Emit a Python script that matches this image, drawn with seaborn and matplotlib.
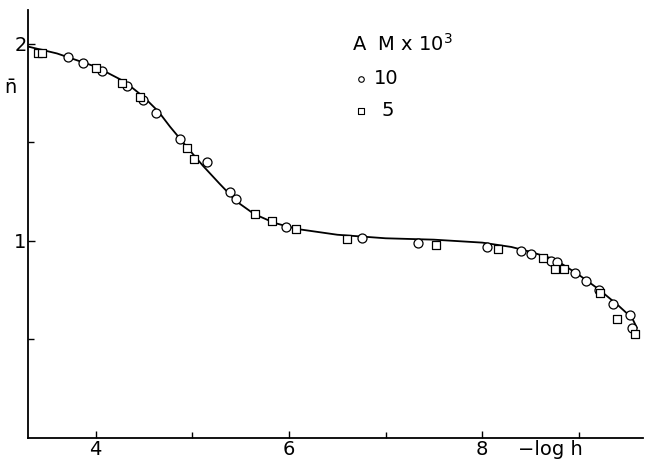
# n-bar gegen -log h, Kurve und Messpunkte (A = 10 und 5 x 10^-3 M)
import numpy as np
import pandas as pd
import matplotlib
matplotlib.use("Agg")
import matplotlib.pyplot as plt
import seaborn as sns

# Messpunkte, Kreise (A M x 10^3 = 10)
x_10 = [3.71, 3.87, 4.07, 4.32, 4.49, 4.62, 4.87, 5.15, 5.39, 5.45, 5.97,
        6.76, 7.33, 8.05, 8.40, 8.50, 8.71, 8.77, 8.96, 9.07, 9.21, 9.35,
        9.53, 9.55]
y_10 = [1.93, 1.90, 1.86, 1.787, 1.714, 1.647, 1.515, 1.398, 1.246, 1.21,
        1.07, 1.012, 0.987, 0.966, 0.95, 0.933, 0.898, 0.893, 0.838, 0.797,
        0.75, 0.679, 0.623, 0.558]

# Messpunkte, Quadrate (A M x 10^3 = 5)
x_5 = [3.40, 3.445, 4.00, 4.27, 4.455, 4.95, 5.02, 5.65, 5.82, 6.075,
       6.60, 7.52, 8.16, 8.625, 8.75, 8.85, 9.22, 9.39, 9.58]
y_5 = [1.95, 1.95, 1.875, 1.80, 1.728, 1.469, 1.415, 1.134, 1.10, 1.058,
       1.009, 0.98, 0.958, 0.911, 0.856, 0.858, 0.733, 0.60, 0.526]

# berechnete Kurve
x_kurve = [3.30, 3.60, 4.00, 4.30, 4.50, 4.65, 4.77, 4.97, 5.11, 5.28,
           5.46, 5.64, 5.85, 6.00, 6.10, 6.50, 7.00, 7.50, 8.00, 8.30,
           8.50, 8.75, 9.00, 9.20, 9.40, 9.55, 9.60]
y_kurve = [1.985, 1.95, 1.883, 1.807, 1.728, 1.655, 1.578, 1.46, 1.38,
           1.29, 1.198, 1.135, 1.09, 1.07, 1.058, 1.03, 1.012, 1.005, 0.99,
           0.968, 0.943, 0.905, 0.826, 0.755, 0.674, 0.607, 0.557]

sns.set_style("ticks")
plt.rcParams['font.family'] = ['DejaVu Sans']
plt.rcParams['text.color'] = 'black'
plt.rcParams['axes.edgecolor'] = 'black'
plt.rcParams['xtick.color'] = 'black'
plt.rcParams['ytick.color'] = 'black'

fig = plt.figure(figsize=(6.46, 4.59), dpi=100)
ax = fig.add_axes([0.0433, 0.0464, 0.9517, 0.9316])

kurve = pd.DataFrame({"x": x_kurve, "y": y_kurve})
sns.lineplot(data=kurve, x="x", y="y", ax=ax, color="black", lw=1.3,
             sort=True)

sns.scatterplot(x=x_10, y=y_10, ax=ax, marker="o", s=42,
                facecolor="white", edgecolor="black", linewidth=0.9, zorder=3)
sns.scatterplot(x=x_5, y=y_5, ax=ax, marker="s", s=30,
                facecolor="white", edgecolor="black", linewidth=0.9, zorder=3)

ax.set_xlim(3.30, 9.66)
ax.set_ylim(0, 2.17)
ax.set_xticks([4, 6, 8])
ax.set_xticks([5, 7, 9], minor=True)
ax.set_yticks([1, 2])
ax.set_yticks([0.5, 1.5], minor=True)
ax.tick_params(which="both", direction="in", width=1, labelsize=14,
               colors="black")
ax.tick_params(which="major", length=5)
ax.tick_params(which="minor", length=4)
ax.tick_params(axis="x", pad=2)
ax.tick_params(axis="y", pad=1)
ax.set_xlabel("")
ax.set_ylabel("")
sns.despine(ax=ax)
for sp in ["left", "bottom"]:
    ax.spines[sp].set_linewidth(1.3)
    ax.spines[sp].set_color("black")

# Achsentexte
ax.text(-0.028, 0.82, "n\u0304", transform=ax.transAxes, fontsize=14,
        ha="center", va="center", color="black")
ax.text(8.7, -0.005, "\u2212log h", transform=ax.get_xaxis_transform(),
        fontsize=14, ha="center", va="top", color="black")

# Legende
ax.text(0.527, 0.92, "A  M x 10$^{3}$", transform=ax.transAxes, fontsize=14,
        ha="left", va="center", color="black")
ax.scatter([0.542], [0.84], transform=ax.transAxes, marker="o", s=16,
           facecolor="white", edgecolor="black", linewidth=0.8)
ax.text(0.563, 0.84, "10", transform=ax.transAxes, fontsize=14,
        ha="left", va="center", color="black")
ax.scatter([0.542], [0.765], transform=ax.transAxes, marker="s", s=14,
           facecolor="white", edgecolor="black", linewidth=0.8)
ax.text(0.575, 0.765, "5", transform=ax.transAxes, fontsize=14,
        ha="left", va="center", color="black")

fig.savefig("out.png", dpi=100)
